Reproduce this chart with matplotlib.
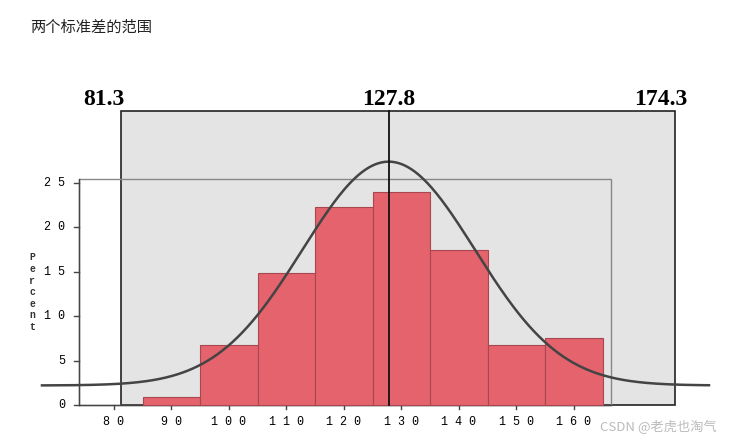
import numpy as np
import matplotlib
matplotlib.use("Agg")
import matplotlib.pyplot as plt
from matplotlib.patches import Rectangle

plt.rcParams['font.family'] = ['Noto Sans CJK SC', 'DejaVu Sans']

bin_left = [85, 95, 105, 115, 125, 135, 145, 155]
percent = [0.9, 6.7, 14.9, 22.3, 24.0, 17.4, 6.7, 7.5]
bin_width = 10
xticks = [80, 90, 100, 110, 120, 130, 140, 150, 160]
yticks = [0, 5, 10, 15, 20, 25]
mean = 127.8
lo, hi = 81.3, 174.3
curve_base, curve_peak, curve_sd = 2.2, 25.2, 15.0

W, H = 736, 436
fig = plt.figure(figsize=(W/100, H/100), dpi=100)
ax = fig.add_axes([0, 0, 1, 1])
ax.set_xlim(60.2, 188.2)
ax.set_ylim(-3.49, 45.6)
ax.axis('off')

box_right = 177.6  # drawn edge of the shaded band in the reference
ax.add_patch(Rectangle((lo, 0), box_right-lo, 33.1, facecolor='#e4e4e4', edgecolor='#222', lw=1.2, zorder=1))
ax.add_patch(Rectangle((74, 0), 166.5-74, 25.5, facecolor='none', edgecolor='#888', lw=1, zorder=2))
ax.plot([74, 74], [0, 25.5], color='#444', lw=1, zorder=2)
ax.plot([74, 166.5], [0, 0], color='#444', lw=1, zorder=2)

ax.bar(bin_left, percent, width=bin_width, align='edge', color='#e4636d',
       edgecolor='#a8474f', lw=0.8, zorder=3)

ax.plot([mean, mean], [0, 33.1], color='#111', lw=1.3, zorder=5)

xs = np.linspace(67.5, 183.5, 400)
ys = curve_base + curve_peak*np.exp(-(xs-mean)**2/(2*curve_sd**2))
ax.plot(xs, ys, color='#444', lw=1.8, zorder=4)

mono = 'Liberation Mono'
for t in yticks:
    ax.plot([73, 74], [t, t], color='#444', lw=1)
    ax.text(71.5, t, ' '.join(str(t)), ha='right', va='center', family=mono, fontsize=8.5)
for t in xticks:
    ax.plot([t, t], [-0.4, 0], color='#444', lw=1)
    ax.text(t, -1.95, ' '.join(str(t)), ha='center', va='center', family=mono, fontsize=8.5)
ax.text(65.8, 12.7, '\n'.join('Percent'), ha='center', va='center', family=mono,
        fontsize=7, linespacing=1.2, fontweight='bold', color='#333')

for v, dx in [(lo, -3.0), (mean, 0), (hi, 0.8)]:
    ax.text(v + dx, 34.4, f'{v}', ha='center', va='center',
            family='Liberation Serif', fontsize=17, fontweight='bold')

fig.text(30/W, 1-27/H, '两个标准差的范围', ha='left', va='center', fontsize=11, color='#222')
fig.text(600/W, 1-427/H, 'CSDN @老虎也淘气', ha='left', va='center', fontsize=9.5, color='#aaa', alpha=0.8)

fig.savefig('out.png', dpi=100)
